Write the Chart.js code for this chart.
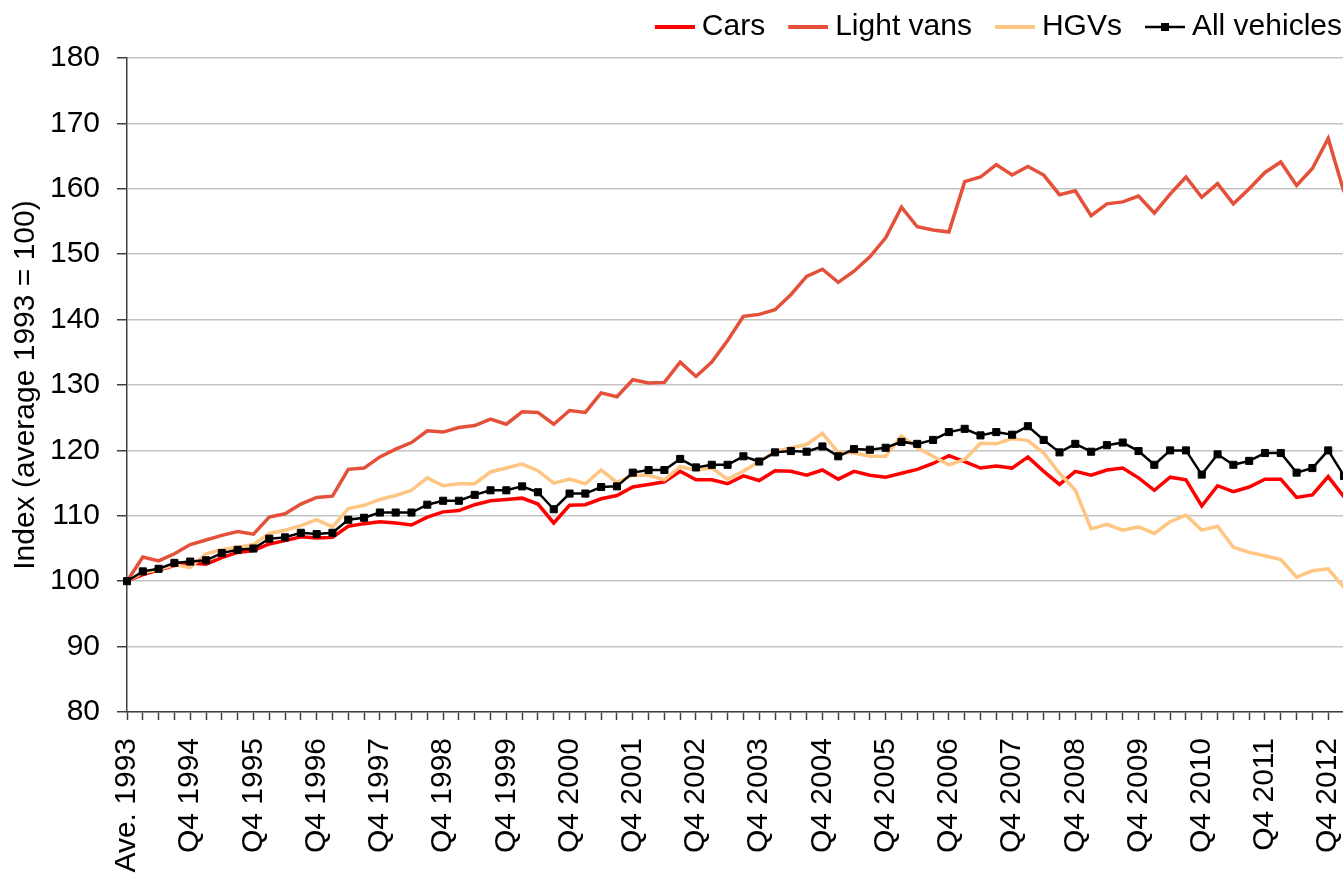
<!DOCTYPE html>
<html>
<head>
<meta charset="utf-8">
<script src="https://cdn.jsdelivr.net/npm/chart.js@4.4.0/dist/chart.umd.min.js"></script>
<style>
    html, body { margin: 0; padding: 0; background: #fff; overflow: hidden; }
    #wrap { position: absolute; left: 0; top: 0; width: 1350px; height: 873px; }
</style>
</head>
<body>
<div id="wrap"><canvas id="trafficChart" width="1350" height="873"></canvas></div>
<script>
// Categories: average of 1993, then every quarter from Q1 1994 to Q1 2013
const years = [1994, 1995, 1996, 1997, 1998, 1999, 2000, 2001, 2002, 2003,
               2004, 2005, 2006, 2007, 2008, 2009, 2010, 2011, 2012, 2013];
const quarters = ["Q1", "Q2", "Q3", "Q4"];
const labels = ["Ave. 1993"];
years.forEach(y => quarters.forEach(q => {
    if (y < 2013 || q === "Q1") labels.push(q + " " + y);
}));

// Index (average 1993 = 100)
const cars = [
    100, 101.0, 101.7, 102.4, 102.8, 102.6, 103.6, 104.4, 104.7, 105.7,
    106.2, 106.8, 106.6, 106.7, 108.4, 108.8, 109.1, 108.9, 108.6, 109.8,
    110.6, 110.8, 111.7, 112.3, 112.5, 112.7, 111.8, 108.9, 111.6, 111.7,
    112.6, 113.1, 114.4, 114.8, 115.2, 116.8, 115.5, 115.5, 114.9, 116.1,
    115.4, 116.9, 116.8, 116.2, 117.0, 115.6, 116.8, 116.2, 115.9, 116.5,
    117.1, 118.0, 119.2, 118.3, 117.3, 117.6, 117.3, 119.0, 116.8, 114.8,
    116.8, 116.2, 117.0, 117.3, 115.8, 113.9, 115.9, 115.5, 111.5, 114.6,
    113.7, 114.4, 115.6, 115.6, 112.8, 113.2, 116.0, 112.9
];
const lightVans = [
    100, 103.7, 103.1, 104.2, 105.6, 106.3, 107.0, 107.6, 107.2, 109.8,
    110.3, 111.8, 112.8, 113.0, 117.1, 117.3, 119.0, 120.2, 121.2, 123.0,
    122.8, 123.5, 123.8, 124.8, 124.0, 125.9, 125.8, 124.0, 126.1, 125.8,
    128.8, 128.2, 130.8, 130.3, 130.4, 133.5, 131.3, 133.5, 136.8, 140.5,
    140.8, 141.5, 143.8, 146.6, 147.7, 145.7, 147.4, 149.6, 152.5, 157.2,
    154.2, 153.7, 153.4, 161.1, 161.8, 163.7, 162.1, 163.4, 162.1, 159.1,
    159.7, 155.9, 157.7, 158.0, 158.9, 156.3, 159.2, 161.8, 158.7, 160.8,
    157.7, 160.0, 162.5, 164.1, 160.5, 163.1, 167.7, 159.5
];
const hgvs = [
    100, 101.3, 101.8, 102.5, 102.1, 104.2, 104.8, 105.2, 105.6, 107.3,
    107.8, 108.5, 109.4, 108.3, 111.1, 111.6, 112.5, 113.1, 113.9, 115.8,
    114.6, 114.9, 114.9, 116.7, 117.3, 117.9, 116.9, 115.0, 115.6, 114.9,
    117.0, 115.1, 116.2, 116.2, 115.5, 117.5, 117.0, 117.3, 115.6, 116.8,
    118.3, 119.8, 120.4, 120.9, 122.6, 119.7, 119.6, 119.1, 119.1, 122.2,
    120.4, 119.1, 117.8, 118.6, 121.1, 121.0, 121.8, 121.5, 119.6, 116.5,
    113.9, 108.0, 108.7, 107.8, 108.3, 107.3, 109.1, 110.1, 107.8, 108.4,
    105.2, 104.4, 103.9, 103.3, 100.6, 101.6, 101.9, 99.0
];
const allVehicles = [
    100, 101.5, 101.9, 102.8, 103.0, 103.2, 104.3, 104.8, 105.0, 106.5,
    106.7, 107.4, 107.2, 107.4, 109.4, 109.7, 110.5, 110.5, 110.5, 111.7,
    112.3, 112.3, 113.2, 113.9, 113.9, 114.5, 113.6, 111.0, 113.4, 113.4,
    114.4, 114.5, 116.6, 117.0, 117.0, 118.7, 117.4, 117.8, 117.8, 119.1,
    118.3, 119.7, 119.9, 119.8, 120.6, 119.1, 120.2, 120.1, 120.4, 121.3,
    121.0, 121.6, 122.8, 123.3, 122.3, 122.8, 122.4, 123.7, 121.6, 119.7,
    121.0, 119.8, 120.8, 121.2, 119.9, 117.8, 120.0, 120.0, 116.3, 119.4,
    117.8, 118.4, 119.6, 119.6, 116.6, 117.3, 120.0, 116.1
];

const FONT = "'Liberation Sans', Arial, sans-serif";
const FONT_SIZE = 30;

// small line sample (with optional square) used as legend symbol
function legendIcon(color, width, withMarker) {
    const c = document.createElement("canvas");
    c.width = 67;
    c.height = 14;
    const g = c.getContext("2d");
    g.strokeStyle = color;
    g.lineWidth = width;
    g.beginPath();
    g.moveTo(27, 7);
    g.lineTo(67, 7);
    g.stroke();
    if (withMarker) {
        g.fillStyle = color;
        g.fillRect(43, 3, 8, 8);
    }
    return c;
}

// a little more room between the legend and the plot
const legendGap = {
    id: "legendGap",
    beforeInit(chart) {
        if (!chart.legend) return;
        const fit = chart.legend.fit;
        chart.legend.fit = function () {
            fit.call(this);
            this.height += 6;
        };
    }
};

const ctx = document.getElementById("trafficChart").getContext("2d");
new Chart(ctx, {
    type: "line",
    data: {
        labels: labels,
        datasets: [
            {
                label: "Cars",
                data: cars,
                borderColor: "#FF0000",
                backgroundColor: "#FF0000",
                borderWidth: 3.5,
                pointRadius: 0,
                order: 4,
                icon: legendIcon("#FF0000", 4, false)
            },
            {
                label: "Light vans",
                data: lightVans,
                borderColor: "#E4503A",
                backgroundColor: "#E4503A",
                borderWidth: 3.5,
                pointRadius: 0,
                order: 3,
                icon: legendIcon("#E4503A", 4, false)
            },
            {
                label: "HGVs",
                data: hgvs,
                borderColor: "#FFC583",
                backgroundColor: "#FFC583",
                borderWidth: 3.5,
                pointRadius: 0,
                order: 2,
                icon: legendIcon("#FFC583", 4, false)
            },
            {
                label: "All vehicles",
                data: allVehicles,
                borderColor: "#000000",
                backgroundColor: "#000000",
                borderWidth: 2.5,
                pointStyle: "rect",
                pointRadius: 5,
                pointBorderWidth: 1,
                order: 1,
                icon: legendIcon("#000000", 2.5, true)
            }
        ]
    },
    options: {
        responsive: false,
        animation: false,
        layout: { padding: { left: 8, top: 8, right: 4, bottom: 0 } },
        elements: { line: { tension: 0 } },
        scales: {
            x: {
                offset: false,
                grid: {
                    display: true,
                    drawOnChartArea: false,
                    drawTicks: true,
                    tickLength: 8,
                    tickColor: "#404040",
                    tickWidth: 1.5
                },
                border: { display: true, color: "#404040", width: 1.5 },
                ticks: {
                    autoSkip: false,
                    maxRotation: 90,
                    minRotation: 90,
                    padding: 18,
                    color: "#000",
                    font: { family: FONT, size: FONT_SIZE },
                    callback: function (value, index) {
                        return index % 4 === 0 ? labels[index] : "";
                    }
                },
                afterFit: function (scale) {
                    scale.height = 161;
                    scale.paddingLeft = 0;
                    scale.paddingRight = 0;
                }
            },
            y: {
                min: 80,
                max: 180,
                grid: {
                    color: "#C4C4C4",
                    lineWidth: 1.5,
                    tickLength: 10,
                    tickColor: "#404040",
                    tickWidth: 1.5
                },
                border: { display: true, color: "#404040", width: 1.5 },
                ticks: {
                    stepSize: 10,
                    padding: 17,
                    color: "#000",
                    font: { family: FONT, size: FONT_SIZE }
                },
                title: {
                    display: true,
                    text: "Index (average 1993 = 100)",
                    color: "#000",
                    font: { family: FONT, size: FONT_SIZE },
                    padding: { top: 0, bottom: 0 }
                },
                afterFit: function (scale) {
                    scale.width = 119;
                }
            }
        },
        plugins: {
            tooltip: { enabled: false },
            legend: {
                position: "top",
                align: "end",
                labels: {
                    usePointStyle: true,
                    pointStyleWidth: 51,
                    padding: 4,
                    color: "#000",
                    font: { family: FONT, size: FONT_SIZE },
                    generateLabels: function (chart) {
                        return chart.data.datasets.map((ds, i) => ({
                            text: ds.label,
                            pointStyle: ds.icon,
                            fillStyle: ds.borderColor,
                            strokeStyle: ds.borderColor,
                            lineWidth: 0,
                            hidden: false,
                            datasetIndex: i
                        }));
                    }
                }
            }
        }
    },
    plugins: [legendGap]
});
</script>
</body>
</html>
